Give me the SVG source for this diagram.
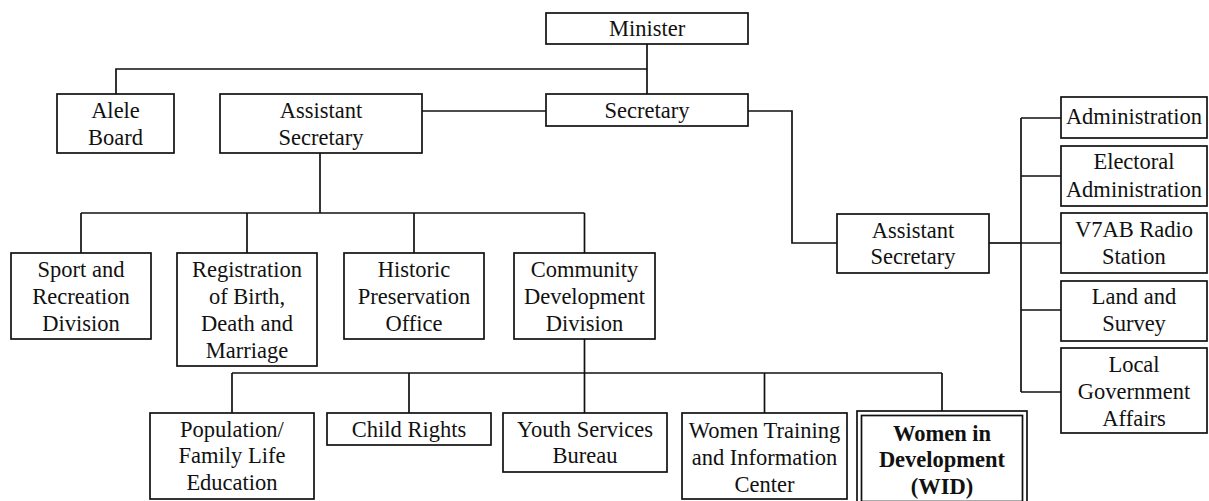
<svg xmlns="http://www.w3.org/2000/svg" width="1209" height="501" viewBox="0 0 1209 501">
<style>
.box{fill:#fff;stroke:#111;stroke-width:1.7}
.ln{fill:none;stroke:#111;stroke-width:1.7}
text{font-family:"Liberation Serif","Times New Roman",serif;font-size:22.5px;fill:#111;text-anchor:middle}
.b{font-weight:bold}
</style>
<rect width="1209" height="501" fill="#fff"/>
<g id="connectors" class="ln">
<path d="M647,44V94"/>
<path d="M647,69H116V94"/>
<path d="M422,111H546"/>
<path d="M748,111H792V243H837"/>
<path d="M989,243H1021"/>
<path d="M1021,118V392"/>
<path d="M1021,118H1061M1021,176H1061M1021,243H1061M1021,310H1061M1021,392H1061"/>
<path d="M320,153V213"/>
<path d="M81,213H584.5"/>
<path d="M81,213V253M247,213V253M414,213V253M584.5,213V253"/>
<path d="M584.5,339V373"/>
<path d="M232,373H942"/>
<path d="M232,373V413M409,373V413M584.5,373V413M764.5,373V413M942,373V411"/>
</g>
<g id="minister"><rect class="box" x="546" y="13" width="202" height="31"/><text x="647" y="36">Minister</text></g>
<g id="secretary"><rect class="box" x="546" y="94" width="202" height="32"/><text x="647" y="118">Secretary</text></g>
<g id="alele"><rect class="box" x="57" y="94" width="117" height="59"/><text x="115.5"><tspan x="115.5" y="118">Alele</tspan><tspan x="115.5" y="145">Board</tspan></text></g>
<g id="asst-sec-1"><rect class="box" x="220" y="94" width="202" height="59"/><text><tspan x="321" y="118">Assistant</tspan><tspan x="321" y="145">Secretary</tspan></text></g>
<g id="asst-sec-2"><rect class="box" x="837" y="214" width="152" height="59"/><text><tspan x="913" y="238">Assistant</tspan><tspan x="913" y="264">Secretary</tspan></text></g>
<g id="administration"><rect class="box" x="1061" y="97" width="146" height="41"/><text x="1134" y="124">Administration</text></g>
<g id="electoral"><rect class="box" x="1061" y="146" width="146" height="60"/><text><tspan x="1134" y="169">Electoral</tspan><tspan x="1134" y="197">Administration</tspan></text></g>
<g id="radio"><rect class="box" x="1061" y="213" width="146" height="60"/><text><tspan x="1134" y="237">V7AB Radio</tspan><tspan x="1134" y="264">Station</tspan></text></g>
<g id="land"><rect class="box" x="1061" y="281" width="146" height="60"/><text><tspan x="1134" y="304">Land and</tspan><tspan x="1134" y="331">Survey</tspan></text></g>
<g id="local-gov"><rect class="box" x="1061" y="348" width="146" height="85"/><text><tspan x="1134" y="372">Local</tspan><tspan x="1134" y="399">Government</tspan><tspan x="1134" y="426">Affairs</tspan></text></g>
<g id="sport"><rect class="box" x="11" y="253" width="140" height="86"/><text><tspan x="81" y="277">Sport and</tspan><tspan x="81" y="304">Recreation</tspan><tspan x="81" y="331">Division</tspan></text></g>
<g id="registration"><rect class="box" x="177" y="253" width="140" height="113"/><text><tspan x="247" y="277">Registration</tspan><tspan x="247" y="304">of Birth,</tspan><tspan x="247" y="331">Death and</tspan><tspan x="247" y="358">Marriage</tspan></text></g>
<g id="historic"><rect class="box" x="344" y="253" width="140" height="86"/><text><tspan x="414" y="277">Historic</tspan><tspan x="414" y="304">Preservation</tspan><tspan x="414" y="331">Office</tspan></text></g>
<g id="community"><rect class="box" x="514" y="253" width="141" height="86"/><text><tspan x="584.5" y="277">Community</tspan><tspan x="584.5" y="304">Development</tspan><tspan x="584.5" y="331">Division</tspan></text></g>
<g id="population"><rect class="box" x="150" y="413" width="164" height="86"/><text><tspan x="232" y="437">Population/</tspan><tspan x="232" y="463">Family Life</tspan><tspan x="232" y="490">Education</tspan></text></g>
<g id="child-rights"><rect class="box" x="327" y="413" width="164" height="32"/><text x="409" y="437">Child Rights</text></g>
<g id="youth"><rect class="box" x="503" y="413" width="164" height="59"/><text><tspan x="585" y="437">Youth Services</tspan><tspan x="585" y="463">Bureau</tspan></text></g>
<g id="women-training"><rect class="box" x="682" y="413" width="165" height="86"/><text><tspan x="764.5" y="438">Women Training</tspan><tspan x="764.5" y="465">and Information</tspan><tspan x="764.5" y="492">Center</tspan></text></g>
<g id="wid"><rect class="box" x="857" y="411" width="170" height="95"/><rect class="box" x="861.5" y="415.5" width="161" height="86"/><text class="b"><tspan x="942" y="441">Women in</tspan><tspan x="942" y="467">Development</tspan><tspan x="942" y="494">(WID)</tspan></text></g>
</svg>
